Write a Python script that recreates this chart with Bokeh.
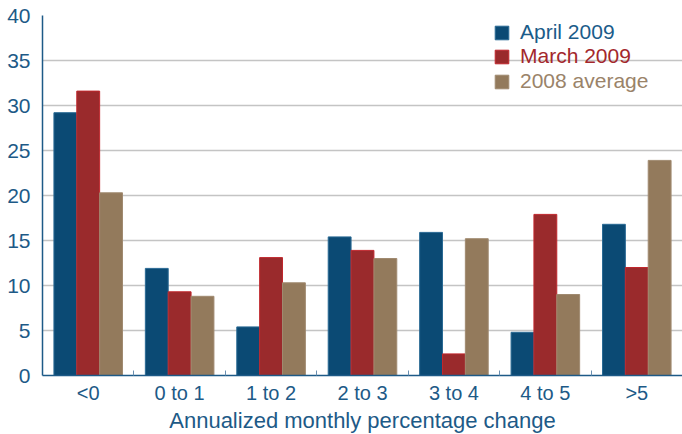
import numpy as np
from bokeh.plotting import figure
from bokeh.models import (Range1d, FixedTicker, Legend, LegendItem, ColumnDataSource)
from bokeh.embed import file_html
from bokeh.resources import INLINE

categories = ["<0", "0 to 1", "1 to 2", "2 to 3", "3 to 4", "4 to 5", ">5"]
april_2009 = [29.2, 11.9, 5.4, 15.4, 15.9, 4.8, 16.8]
march_2009 = [31.6, 9.3, 13.1, 13.9, 2.4, 17.9, 12.0]
avg_2008 = [20.3, 8.8, 10.3, 13.0, 15.2, 9.0, 23.9]
series_names = ["April 2009", "March 2009", "2008 average"]
y_ticks = [0, 5, 10, 15, 20, 25, 30, 35, 40]

bar_colors = ["#0b4a74", "#9a2a2c", "#937a5c"]
edge_colors = ["#2a6a94", "#c0272d", "#a08a70"]
legend_text_colors = ["#1b5c8a", "#a3282c", "#9a8369"]
text_blue = "#1d5a87"
FONT = "Liberation Sans"

FRAME_H = 360
p = figure(frame_width=640, frame_height=FRAME_H, output_backend="svg", toolbar_location=None,
           x_range=Range1d(0, 7), y_range=Range1d(0, 40),
           min_border_left=42, min_border_right=0, min_border_top=15, min_border_bottom=59)
p.outline_line_color = None
p.background_fill_color = "white"

centers = np.arange(len(categories)) + 0.5
offsets = [-0.25, 0.0, 0.25]
renderers = []
for vals, off, col, ecol in zip([april_2009, march_2009, avg_2008], offsets, bar_colors, edge_colors):
    src = ColumnDataSource(dict(x=centers + off, top=vals))
    r = p.vbar(x="x", top="top", width=0.25, bottom=0, source=src,
               fill_color=col, line_color=ecol, line_width=1)
    renderers.append(r)

# x axis
xa = p.xaxis[0]
xa.ticker = FixedTicker(ticks=list(centers), minor_ticks=list(np.arange(1, len(categories))))
xa.major_label_overrides = {float(c): lab for c, lab in zip(centers, categories)}
xa.major_tick_line_color = None
xa.minor_tick_in = 5
xa.minor_tick_out = 0
xa.minor_tick_line_color = "#6a8fb0"
xa.axis_line_color = text_blue
xa.axis_line_width = 1.5
xa.major_label_text_font = FONT
xa.major_label_text_font_size = "20px"
xa.major_label_text_color = text_blue
xa.major_label_standoff = 0
xa.axis_label = "Annualized monthly percentage change"
xa.axis_label_text_font = FONT
xa.axis_label_text_font_size = "22px"
xa.axis_label_text_font_style = "normal"
xa.axis_label_text_color = text_blue
xa.axis_label_standoff = 1

# y axis
ya = p.yaxis[0]
ya.ticker = FixedTicker(ticks=y_ticks)
ya.major_tick_in = 0
ya.major_tick_out = 0
ya.minor_tick_line_color = None
ya.axis_line_color = text_blue
ya.axis_line_width = 1.5
ya.major_label_text_font = FONT
ya.major_label_text_font_size = "21px"
ya.major_label_text_color = text_blue
ya.major_label_standoff = 12

p.xgrid.grid_line_color = None
p.ygrid.grid_line_color = "#c4c4c4"
p.ygrid.grid_line_width = 1.5

# legends, one per series so each label keeps its own colour
for i, (name, r, tc) in enumerate(zip(series_names, renderers, legend_text_colors)):
    lg = Legend(items=[LegendItem(label=name, renderers=[r])],
                location=(451, FRAME_H - 8 - 21 - int(24.5 * i)),
                border_line_color=None, background_fill_alpha=0,
                padding=0, margin=0, spacing=0,
                glyph_width=17, glyph_height=17, label_height=17,
                label_standoff=10,
                label_text_font=FONT, label_text_font_size="21px",
                label_text_color=tc, label_text_baseline="middle")
    p.add_layout(lg)

open("out.html", "w").write(file_html(p, INLINE))
